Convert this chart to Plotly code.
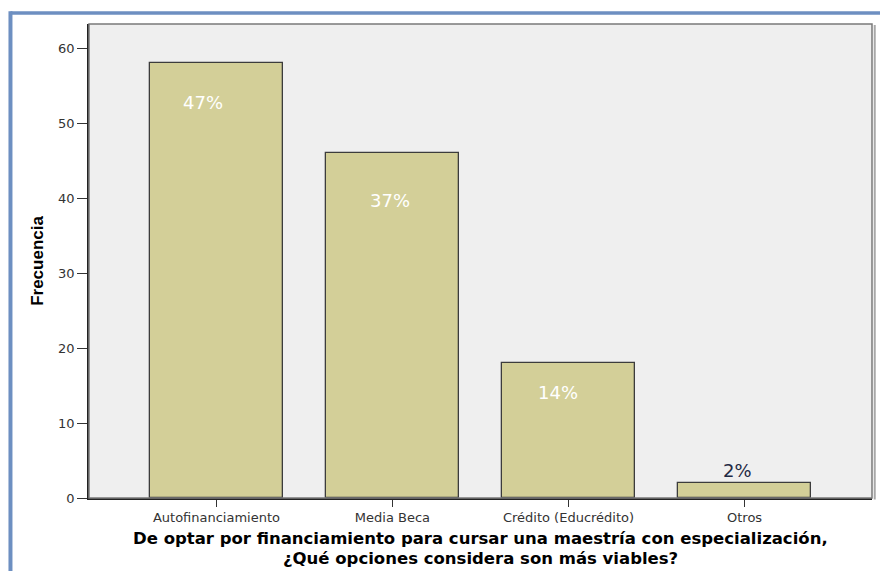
import plotly.graph_objects as go

# Survey answers: preferred financing for a master's degree
categorias = ["Autofinanciamiento", "Media Beca", "Crédito (Educrédito)", "Otros"]
frecuencias = [58, 46, 18, 2]
porcentajes = ["47%", "37%", "14%", "2%"]
y_ticks = [0, 10, 20, 30, 40, 50, 60]

# label placement (pixel offsets from bar top centre) and colour
label_dx = [-13, -2, -11, -7]
label_dy = [-39, -47, -29, 13]
label_color = ["white", "white", "white", "#1f2a44"]

BAR_FILL = "#d3cf98"
BAR_EDGE = "#3c3c3c"
PLOT_BG = "#efefef"
FRAME_BLUE = "#6d8fc1"

fig = go.Figure()
fig.add_trace(go.Bar(
    x=list(range(len(categorias))),
    y=frecuencias,
    width=0.756,
    marker=dict(color=BAR_FILL, line=dict(color=BAR_EDGE, width=1.3)),
    hoverinfo="skip",
))

for i, (v, txt) in enumerate(zip(frecuencias, porcentajes)):
    fig.add_annotation(
        x=i, y=v, text=txt, showarrow=False,
        xshift=label_dx[i], yshift=label_dy[i], yanchor="middle",
        font=dict(family="DejaVu Sans, Arial", size=18, color=label_color[i]),
    )

# axis title, two lines
fig.add_annotation(
    xref="paper", yref="paper", x=0.5, y=0, yshift=-40, yanchor="middle",
    text="<b>De optar por financiamiento para cursar una maestría con especialización,</b>",
    showarrow=False, font=dict(family="DejaVu Sans", size=16.5, color="black"),
)
fig.add_annotation(
    xref="paper", yref="paper", x=0.5, y=0, yshift=-60, yanchor="middle",
    text="<b>¿Qué opciones considera son más viables?</b>",
    showarrow=False, font=dict(family="DejaVu Sans", size=16.5, color="black"),
)

# gray frame around the plot area
fig.add_shape(type="rect", xref="paper", yref="paper", x0=0, x1=1, y0=0, y1=1,
              line=dict(color="#7a7a7a", width=1.5), layer="above")
# right-edge shadow
fig.add_shape(type="line", xref="paper", yref="paper", x0=1.0035, x1=1.0035,
              y0=-0.003, y1=0.998, line=dict(color="#a8a8a8", width=2))

# blue page frame (left and top edges)
fig.add_shape(type="line", xref="paper", yref="paper", x0=-0.1003, x1=1.02,
              y0=1.0232, y1=1.0232, line=dict(color=FRAME_BLUE, width=3.5))
fig.add_shape(type="line", xref="paper", yref="paper", x0=-0.1003, x1=-0.1003,
              y0=1.027, y1=-0.2, line=dict(color=FRAME_BLUE, width=4))

fig.update_layout(
    width=880, height=571,
    margin=dict(l=89, r=8, t=24, b=73),
    paper_bgcolor="white",
    plot_bgcolor=PLOT_BG,
    showlegend=False,
    bargap=0,
    font=dict(family="DejaVu Sans, Arial", color="#333333"),
    xaxis=dict(
        range=[-0.724, 3.724],
        tickmode="array", tickvals=list(range(len(categorias))), ticktext=categorias,
        ticks="outside", ticklen=7, tickwidth=1.3, tickcolor="#333333",
        tickfont=dict(size=13, color="#333333"),
        showline=True, linecolor="#222222", linewidth=1.5,
        showgrid=False, zeroline=False, fixedrange=True,
    ),
    yaxis=dict(
        range=[0, 63.2],
        tickmode="array", tickvals=y_ticks,
        ticks="outside", ticklen=10, tickwidth=1.3, tickcolor="#333333",
        tickfont=dict(size=13, color="#333333"),
        showline=True, linecolor="#222222", linewidth=1.5,
        showgrid=False, zeroline=False, fixedrange=True,
        title=dict(text="<b>Frecuencia</b>", standoff=10,
                   font=dict(family="Liberation Sans, Arial", size=17, color="black")),
    ),
)

fig.write_html("out.html")
